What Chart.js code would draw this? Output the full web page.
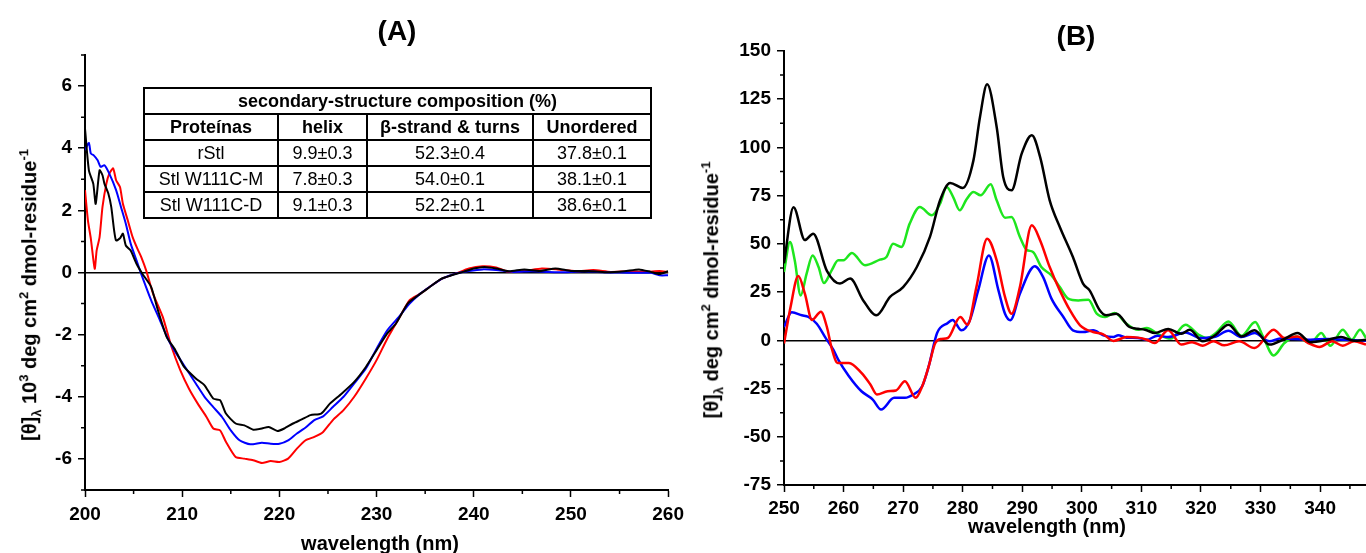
<!DOCTYPE html>
<html>
<head>
<meta charset="utf-8">
<script src="https://cdn.jsdelivr.net/npm/chart.js@4.4.1/dist/chart.umd.min.js"></script>
<style>
    body { margin: 0; background: #fff; font-family: "Liberation Sans", Arial, sans-serif; }
    #wrap { position: relative; width: 1366px; height: 553px; overflow: hidden; }
    #boxA { position: absolute; left: 0; top: 0; width: 690px; height: 553px; }
    #boxB { position: absolute; left: 690px; top: 0; width: 676px; height: 553px; }
    .panel { position: absolute; font-weight: bold; font-size: 28px; transform: translate(-50%, -50%); }
    .xtitle { position: absolute; font-weight: bold; font-size: 20px; white-space: nowrap; transform: translate(-50%, -50%); }
    .ytitle { position: absolute; font-weight: bold; font-size: 20px; white-space: nowrap; transform: translate(-50%, -50%) rotate(-90deg); }
    .ytitle sup, .ytitle sub { font-size: 13px; }
    #tbl { position: absolute; left: 143px; top: 87px; border-collapse: collapse; table-layout: fixed; width: 507px; }
    #tbl td { border: 2px solid #000; height: 24px; padding: 0; text-align: center; font-size: 18px; line-height: 24px; white-space: nowrap; overflow: hidden; }
    #tbl tr.head td { font-weight: bold; }
</style>
</head>
<body>
<div id="wrap">
    <div id="boxA"><canvas id="chartA"></canvas></div>
    <div id="boxB"><canvas id="chartB"></canvas></div>
    <div class="panel" style="left:397px; top:31px;">(A)</div>
    <div class="panel" style="left:1076px; top:36px;">(B)</div>
    <div class="xtitle" style="left:380px; top:543px;">wavelength (nm)</div>
    <div class="xtitle" style="left:1047px; top:526px;">wavelength (nm)</div>
    <div class="ytitle" style="left:30px; top:295px;">[θ]<sub>λ</sub> 10<sup>3</sup> deg cm<sup>2</sup> dmol-residue<sup>-1</sup></div>
    <div class="ytitle" style="left:712px; top:290px;">[θ]<sub>λ</sub> deg cm<sup>2</sup> dmol-residue<sup>-1</sup></div>
    <table id="tbl"></table>
</div>
<script>
// panel A: far-UV CD, wavelength (nm) vs [θ] x 10^3
const aTicksX = [200, 210, 220, 230, 240, 250, 260];
const aMinorX = [205, 215, 225, 235, 245, 255];
const aTicksY = [-6, -4, -2, 0, 2, 4, 6];
const aMinorY = [-7, -5, -3, -1, 1, 3, 5, 7];

const aBlack = [[200,4.63],[200.4,3.29],[200.85,2.86],[201.1,2.21],[201.5,3.29],[201.8,3.13],[202,2.86],[202.4,2.54],[202.7,2.11],[203,1.35],
    [203.2,1.03],[203.6,1.1],[203.9,1.25],[204.2,0.87],[204.7,0.71],[205.3,0.28],[205.9,-0.04],[206.8,-0.46],[207.5,-1.21],[208.4,-2.07],
    [209.3,-2.5],[210.2,-3.04],[211.4,-3.41],[212.3,-3.63],[213.2,-4.06],[213.9,-4.11],[214.5,-4.54],[215.5,-4.86],[216.4,-4.92],[217.3,-5.06],
    [218.2,-5.02],[218.9,-4.97],[219.8,-5.1],[220.5,-5.02],[221.4,-4.86],[222.3,-4.73],[223.2,-4.59],[224.3,-4.54],[225.2,-4.22],[226.4,-3.9],
    [227.7,-3.52],[228.9,-3.04],[230,-2.5],[231.1,-1.96],[232,-1.64],[233.2,-1],[234.3,-0.73],[235.5,-0.46],[236.6,-0.21],[237.7,-0.09],
    [238.9,0.02],[240,0.13],[241.1,0.18],[242.3,0.13],[243.6,0.04],[245.2,0.1],[246.8,0.05],[248.4,0.13],[250,0.05],[251.8,0.05],
    [253.6,0.01],[255.5,0.04],[257,0.1],[258.2,0.02],[259.1,-0.05],[260,0.04]];
const aBlue = [[200,3.94],[200.4,4.17],[200.6,3.83],[200.9,3.77],[201.3,3.61],[201.6,3.4],[202,3.45],[202.5,3.18],[203.2,2.65],[203.7,2.11],
    [204.2,1.57],[204.7,0.93],[205.3,0.39],[205.8,-0.06],[206.8,-0.89],[207.7,-1.53],[208.6,-2.18],[209.5,-2.66],[210.5,-3.14],[211.4,-3.57],
    [212.3,-4],[213.2,-4.33],[214.1,-4.65],[215,-5.08],[215.9,-5.4],[217,-5.53],[218.2,-5.48],[219.1,-5.51],[220,-5.51],[220.9,-5.4],
    [221.8,-5.18],[222.7,-4.99],[223.6,-4.75],[224.5,-4.63],[225.5,-4.33],[226.6,-4],[227.7,-3.57],[228.9,-3.09],[230,-2.45],[231.1,-1.86],
    [232.3,-1.43],[233.4,-1],[234.5,-0.68],[235.7,-0.41],[236.8,-0.19],[238.2,-0.03],[239.5,0.05],[240.9,0.1],[242.3,0.08],[244.1,0.02],
    [245.9,0.04],[247.7,0.02],[249.5,0.01],[251.4,0.04],[253.2,0.01],[255,0],[256.8,-0.01],[258.2,-0.01],[259.1,-0.09],[260,-0.09]];
const aRed = [[200,2.65],[200.3,1.68],[200.6,1.09],[201,0.12],[201.2,0.71],[201.5,1.14],[201.8,2.11],[202.2,2.86],[202.5,3.18],[202.9,3.35],
    [203.2,2.97],[203.6,2.75],[203.9,2.21],[204.4,1.68],[204.9,1.14],[205.4,0.76],[205.8,0.49],[206.3,0.06],[207,-0.68],[208,-1.43],
    [208.9,-2.39],[209.8,-3.14],[210.7,-3.74],[211.6,-4.22],[212.5,-4.65],[213.2,-5.02],[213.9,-5.08],[214.5,-5.45],[215.5,-5.94],[216.4,-5.99],
    [217.3,-6.04],[218.2,-6.13],[219.1,-6.07],[220,-6.1],[220.9,-5.99],[221.8,-5.67],[222.7,-5.4],[223.6,-5.29],[224.5,-5.13],[225.5,-4.75],
    [226.6,-4.43],[227.7,-4],[228.9,-3.41],[230,-2.82],[231.1,-2.13],[232.3,-1.48],[233.4,-0.89],[234.5,-0.68],[235.7,-0.41],[236.8,-0.19],
    [238.2,-0.03],[239.5,0.13],[240.9,0.2],[242.3,0.16],[243.6,0.02],[245.2,0.05],[247,0.13],[248.6,0.1],[250.5,0.04],[252.3,0.08],
    [254.1,0.02],[255.9,0.04],[257.7,0.02],[259.1,0.05],[260,0.02]];

// panel B: near-UV CD
const bTicksX = [250, 260, 270, 280, 290, 300, 310, 320, 330, 340];
const bMinorX = [255, 265, 275, 285, 295, 305, 315, 325, 335, 345];
const bTicksY = [-75, -50, -25, 0, 25, 50, 75, 100, 125, 150];
const bMinorY = [-62.5, -37.5, -12.5, 12.5, 37.5, 62.5, 87.5, 112.5, 137.5];

const bBlack = [[250,40],[251.6,69],[253.5,52],[254.9,55.3],[257.2,36],[259.4,29.4],[261.1,32],[263.3,20.7],[265.5,13],[267.8,22.5],
    [270,27.6],[272.3,38],[274.5,53.6],[276.2,72.6],[277.9,81.6],[280,79],[281.8,93.3],[282.9,115.8],[284.1,132.7],[285.7,110.6],
    [286.8,84.7],[288.2,77.8],[289.9,96.8],[291.6,106.3],[293,95],[294.6,72.6],[296.3,58.8],[298.5,43.2],[300.2,29.4],[301.3,25.9],
    [303,15.6],[304.1,13],[305.8,13.8],[308,6.9],[309.4,6],[310.6,5.5],[312.3,3.8],[314.5,5.9],[316.7,3.4],[318.1,5.5],
    [320.3,-0.5],[322.5,2.9],[324.6,8.1],[326.8,2],[329,5.2],[331.5,-2.2],[334,0.7],[336.2,3.8],[338.4,-1],[341.3,0.3],
    [343.5,1.7],[345.7,-0.2],[347.7,0.3]];
const bRed = [[250,-1.7],[251.1,17.3],[252.4,33.3],[253.5,24.2],[254.7,10.6],[256.2,14.8],[257.2,6.9],[258,-4],[259,-11.7],[260.9,-11.7],
    [263,-16.9],[264.5,-22.9],[265.6,-28.1],[267.4,-26.4],[268.8,-26],[270.3,-21.2],[272.1,-29.8],[273.2,-23.8],[274.3,-13.4],[275.4,-1.4],
    [276.4,0.7],[277.5,1.2],[279.6,12.1],[280.8,8.1],[282.3,27.6],[284.1,52.7],[285.7,41.5],[287.1,22.5],[288.2,13.8],[289.6,27.6],
    [291.6,59.6],[293,51.8],[294.6,38],[296.3,25.9],[298,15.6],[299.7,7.8],[301.9,4.3],[303.6,3.1],[305.3,-0.3],[307.5,1.7],
    [309.4,1.4],[310.9,0.3],[312.2,-1.4],[314.5,5.2],[316.7,-2.2],[318.5,-1],[320.3,-2.8],[322.1,-0.5],[323.9,-2.6],[326.4,-0.5],
    [329,-4],[332.2,5.5],[334,1.2],[336.2,2],[338,-1.4],[339.9,-3.4],[342,-0.5],[343.8,-2.8],[345.7,-0.5],[347.7,-2.2]];
const bBlue = [[250,6.9],[251.3,14.5],[253,13],[254.1,12.1],[255.5,8.6],[256.9,1.7],[258.3,-5],[259.1,-10],[260.9,-18.6],[263,-26.4],
    [264.9,-30.7],[266.3,-35.9],[268.5,-29.8],[270.3,-29.8],[271.7,-28.1],[273.2,-23.8],[274.3,-13.4],[275.7,3.8],[277.5,9],[278.3,10.6],
    [279.8,5.2],[281.2,10.4],[282.6,25.9],[284.4,44],[286,25.9],[287.1,13.8],[288,10.4],[289.6,24.2],[292.1,38.4],[293.5,32.8],
    [294.9,21.6],[296.9,12.1],[298.5,5.2],[300.2,4.3],[301.9,5.2],[303.6,2.6],[305.3,1.7],[306.1,2.6],[307.5,1.4],[309.4,1.2],
    [310.9,0.3],[312.7,2.4],[314.5,1.7],[317.4,4.1],[319.9,1.2],[322.5,2],[324.6,5],[326.8,1.7],[329,3.8],[331.5,-0.5],
    [333.3,1],[335.5,0.7],[338.4,0.3],[341.3,0.7],[344.2,0.3],[347.7,-0.2]];
const bGreen = [[250,35.4],[251,51],[251.8,41.5],[252.8,23.3],[253.8,34.6],[254.8,44],[255.8,38],[256.7,29.7],[258,36.3],[259.1,41.5],
    [260,41.5],[261.4,45.3],[263.6,38.9],[266.1,41.8],[267.2,43.2],[268.3,50.1],[269.7,48.4],[271.1,60.5],[272.8,69.1],[274.8,64.8],
    [276.2,70.8],[277.3,79.5],[278.4,74.3],[279.5,67.4],[280.6,72.9],[281.8,76.9],[283,75.2],[284.7,80.9],[285.7,72.6],[287.1,63.6],
    [288.2,63.9],[289.6,53.6],[290.7,47],[291.8,45.8],[293.2,38],[294.9,33.7],[296.3,27.6],[297.7,21.6],[299.4,20.7],[301.1,21.1],
    [302.5,13.8],[303.9,12.1],[305.5,14.2],[307.5,8.6],[309.4,5.5],[310.9,6.4],[313,2.9],[314.9,0.9],[317.4,8.1],[319.6,2.9],
    [321,1.2],[322.5,3.8],[324.6,9.8],[326.8,2.4],[329.1,9.5],[330.4,2],[332.2,-7.8],[334,-1.4],[335.9,2],[338.4,-1.4],
    [340.2,3.8],[341.7,-2.8],[343.8,5.5],[345.3,0.3],[346.7,5.5],[347.7,1.2]];

// inset table
const tableTitle = "secondary-structure composition (%)";
const tableHead = ["Proteínas", "helix", "β-strand & turns", "Unordered"];
const tableRows = [
    ["rStl", "9.9±0.3", "52.3±0.4", "37.8±0.1"],
    ["Stl W111C-M", "7.8±0.3", "54.0±0.1", "38.1±0.1"],
    ["Stl W111C-D", "9.1±0.3", "52.2±0.1", "38.6±0.1"]
];
const colWidths = [134, 89, 166, 118];

const tbl = document.getElementById("tbl");
tbl.innerHTML = `<colgroup>${colWidths.map(w => `<col style="width:${w}px">`).join("")}</colgroup>` +
    `<tr class="head"><td colspan="4">${tableTitle}</td></tr>` +
    `<tr class="head">${tableHead.map(h => `<td>${h}</td>`).join("")}</tr>` +
    tableRows.map(r => `<tr>${r.map(c => `<td>${c}</td>`).join("")}</tr>`).join("");

const toXY = pts => pts.map(p => ({ x: p[0], y: p[1] }));
const tickFont = { family: "'Liberation Sans', Arial, sans-serif", size: 19, weight: "bold" };

// short outward ticks for the minor values
const minorTicks = (xMinor, yMinor) => ({
    id: "minorTicks",
    afterDraw(chart) {
        const { ctx, scales: { x, y } } = chart;
        ctx.save();
        ctx.strokeStyle = "#000";
        ctx.lineWidth = 1.5;
        ctx.beginPath();
        xMinor.forEach(v => {
            const px = x.getPixelForValue(v);
            if (px > x.right + 0.5) return;
            ctx.moveTo(px, y.bottom);
            ctx.lineTo(px, y.bottom + 4);
        });
        yMinor.forEach(v => {
            const py = y.getPixelForValue(v);
            ctx.moveTo(x.left, py);
            ctx.lineTo(x.left - 4, py);
        });
        ctx.stroke();
        ctx.restore();
    }
});

const makeChart = (canvasId, sets, cfg) => new Chart(document.getElementById(canvasId), {
    type: "line",
    data: {
        datasets: sets.map(s => ({
            data: toXY(s.pts),
            borderColor: s.color,
            borderWidth: cfg.lineWidth,
            pointRadius: 0,
            fill: false,
            tension: cfg.tension,
            cubicInterpolationMode: cfg.cubic
        }))
    },
    options: {
        responsive: true,
        maintainAspectRatio: false,
        animation: false,
        layout: { padding: cfg.padding },
        plugins: { legend: { display: false }, tooltip: { enabled: false } },
        scales: {
            x: {
                type: "linear",
                min: cfg.xMin, max: cfg.xMax,
                afterBuildTicks: sc => { sc.ticks = cfg.xTicks.map(v => ({ value: v })); },
                afterFit: sc => { sc.height = cfg.xHeight; },
                border: { color: "#000", width: 2 },
                grid: { drawOnChartArea: false, tickLength: 7, tickColor: "#000", tickWidth: 1.5 },
                ticks: { color: "#000", font: tickFont, padding: cfg.xPad, maxRotation: 0 }
            },
            y: {
                type: "linear",
                min: cfg.yMin, max: cfg.yMax,
                afterBuildTicks: sc => { sc.ticks = cfg.yTicks.map(v => ({ value: v })); },
                afterFit: sc => { sc.width = cfg.yWidth; },
                border: { color: "#000", width: 2 },
                grid: {
                    drawOnChartArea: true,
                    color: c => (c.tick && c.tick.value === 0 ? "#000" : "rgba(0,0,0,0)"),
                    lineWidth: 1.5,
                    tickLength: 7, tickColor: "#000", tickWidth: 1.5
                },
                ticks: { color: "#000", font: tickFont, padding: 6 }
            }
        }
    },
    plugins: [minorTicks(cfg.xMinor, cfg.yMinor)]
});

makeChart("chartA", [
    { pts: aBlack, color: "#000000" },
    { pts: aBlue, color: "#0000ff" },
    { pts: aRed, color: "#ff0000" }
], {
    lineWidth: 2, tension: 0.2, cubic: "default",
    padding: { top: 55, right: 16, left: 0, bottom: 0 },
    xMin: 200, xMax: 260, yMin: -7, yMax: 7,
    xTicks: aTicksX, yTicks: aTicksY, xMinor: aMinorX, yMinor: aMinorY,
    xHeight: 63, yWidth: 85, xPad: 6
});

makeChart("chartB", [
    { pts: bBlack, color: "#000000" },
    { pts: bRed, color: "#ff0000" },
    { pts: bBlue, color: "#0000ff" },
    { pts: bGreen, color: "#1ee61e" }
], {
    lineWidth: 2.5, tension: 0.4, cubic: "monotone",
    padding: { top: 51, right: 0, left: 0, bottom: 0 },
    xMin: 250, xMax: 347.7, yMin: -75, yMax: 150,
    xTicks: bTicksX, yTicks: bTicksY, xMinor: bMinorX, yMinor: bMinorY,
    xHeight: 68, yWidth: 94, xPad: 5
});
</script>
</body>
</html>
